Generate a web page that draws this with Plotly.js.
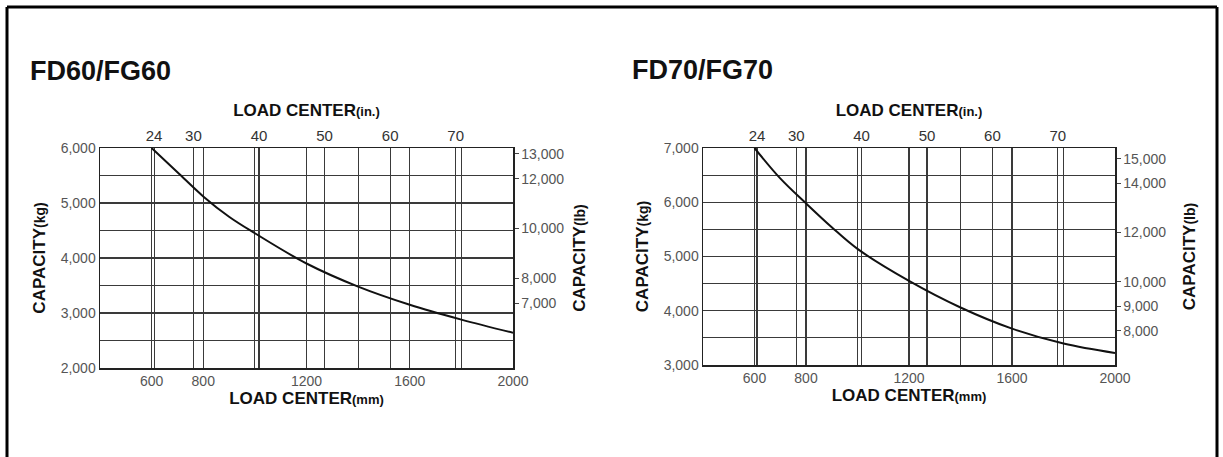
<!DOCTYPE html>
<html>
<head>
<meta charset="utf-8">
<script src="https://cdn.plot.ly/plotly-3.0.1.min.js"></script>
<style>html,body{margin:0;padding:0;background:#fff;}#chart{width:1223px;height:457px;}</style>
</head>
<body>
<div id="chart"></div>
<script>
// ---- data ----
const loadCenterMm = [600, 700, 800, 900, 1000, 1200, 1400, 1600, 1800, 2000];
const fd60CapacityKg = [6000, 5560, 5120, 4750, 4450, 3900, 3480, 3150, 2880, 2640];
const fd70CapacityKg = [7000, 6440, 5980, 5540, 5140, 4550, 4060, 3670, 3395, 3220];

const mmTickLabels = [600, 800, 1200, 1600, 2000];
const inchTickLabels = [24, 30, 40, 50, 60, 70];
const fd60LbTicks = [7000, 8000, 10000, 12000, 13000];
const fd70LbTicks = [8000, 9000, 10000, 12000, 14000, 15000];

const fd60KgRange = [2000, 6000];
const fd70KgRange = [3000, 7000];
const mmRange = [400, 2000];

const KG_TO_LB = 2.20462;
const MM_PER_IN = 25.4;

// ---- styling ----
const FONT = "Liberation Sans, Arial, sans-serif";
const GRID = '#3a3a3a';
const tickFont = {family: FONT, size: 14, color: '#555'};
const titleFont = {family: FONT, size: 17, color: '#111', weight: 'bold'};

function bottomX(domain, anchor) {
  return {
    domain: domain, anchor: anchor, range: mmRange,
    tickmode: 'array', tickvals: mmTickLabels, ticks: '',
    showgrid: true, gridcolor: GRID, gridwidth: 1.2,
    minor: {tickmode: 'linear', tick0: 0, dtick: 200, showgrid: true, gridcolor: GRID, gridwidth: 1.2, ticks: ''},
    showline: true, linecolor: '#222', linewidth: 1.5,
    zeroline: false, tickfont: tickFont, fixedrange: true,
    title: {text: 'LOAD CENTER<span style="font-size:13px">(mm)</span>', font: titleFont, standoff: 4}
  };
}
function topX(base, anchor) {
  return {
    overlaying: base, anchor: anchor, side: 'top',
    range: [mmRange[0] / MM_PER_IN, mmRange[1] / MM_PER_IN],
    tickmode: 'array', tickvals: inchTickLabels, ticks: '',
    showgrid: true, gridcolor: GRID, gridwidth: 1.2,
    showline: true, linecolor: '#222', linewidth: 1.5,
    zeroline: false, tickfont: {family: FONT, size: 15, color: '#333'}, fixedrange: true,
    title: {text: 'LOAD CENTER<span style="font-size:13px">(in.)</span>', font: titleFont, standoff: 5}
  };
}
function leftY(domain, anchor, range) {
  return {
    domain: domain, anchor: anchor, range: range,
    tickmode: 'linear', tick0: 0, dtick: 1000, tickformat: ',d', ticks: '',
    showgrid: true, gridcolor: GRID, gridwidth: 1.2,
    minor: {tickmode: 'linear', tick0: 0, dtick: 500, showgrid: true, gridcolor: GRID, gridwidth: 1.2, ticks: ''},
    showline: true, linecolor: '#222', linewidth: 1.5,
    zeroline: false, tickfont: tickFont, fixedrange: true,
    title: {text: 'CAPACITY<span style="font-size:14px">(kg)</span>', font: titleFont, standoff: 10}
  };
}
function rightY(base, anchor, kgRange, lbTicks, standoff) {
  return {
    overlaying: base, anchor: anchor, side: 'right',
    range: [kgRange[0] * KG_TO_LB, kgRange[1] * KG_TO_LB],
    tickmode: 'array', tickvals: lbTicks, tickformat: ',d',
    ticks: 'outside', ticklen: 4, tickcolor: '#444',
    showgrid: false, showline: true, linecolor: '#222', linewidth: 1.5,
    zeroline: false, tickfont: tickFont, fixedrange: true,
    title: {text: 'CAPACITY<span style="font-size:14px">(lb)</span>', font: titleFont, standoff: standoff}
  };
}

const W = 1223, H = 457;
const px = v => v / W;
const py = v => 1 - v / H;

const curveLine = {color: '#111', width: 2, shape: 'spline'};
const traces = [
  {x: loadCenterMm, y: fd60CapacityKg, xaxis: 'x', yaxis: 'y', type: 'scatter', mode: 'lines',
   line: curveLine, hoverinfo: 'skip'},
  // same curve in inch / lb units, invisible, so the secondary axes are drawn
  {x: loadCenterMm.map(v => v / MM_PER_IN), y: fd60CapacityKg.map(v => v * KG_TO_LB), xaxis: 'x2', yaxis: 'y2',
   type: 'scatter', mode: 'lines', opacity: 0, line: curveLine, hoverinfo: 'skip'},
  {x: loadCenterMm, y: fd70CapacityKg, xaxis: 'x3', yaxis: 'y3', type: 'scatter', mode: 'lines',
   line: curveLine, hoverinfo: 'skip'},
  {x: loadCenterMm.map(v => v / MM_PER_IN), y: fd70CapacityKg.map(v => v * KG_TO_LB), xaxis: 'x4', yaxis: 'y4',
   type: 'scatter', mode: 'lines', opacity: 0, line: curveLine, hoverinfo: 'skip'}
];

const layout = {
  width: W, height: H,
  margin: {l: 0, r: 0, t: 0, b: 0},
  paper_bgcolor: '#fff', plot_bgcolor: '#fff',
  showlegend: false,
  xaxis: bottomX([px(100), px(513)], 'y'),
  xaxis2: topX('x', 'y'),
  yaxis: leftY([py(368), py(148)], 'x', fd60KgRange),
  yaxis2: rightY('y', 'x', fd60KgRange, fd60LbTicks, 10),
  xaxis3: bottomX([px(703), px(1115)], 'y3'),
  xaxis4: topX('x3', 'y3'),
  yaxis3: leftY([py(365), py(148)], 'x3', fd70KgRange),
  yaxis4: rightY('y3', 'x3', fd70KgRange, fd70LbTicks, 18),
  annotations: [
    {text: 'FD60/FG60', xref: 'paper', yref: 'paper', x: px(28), y: py(71), xanchor: 'left', yanchor: 'middle',
     showarrow: false, font: {family: FONT, size: 27, color: '#111', weight: 'bold'}},
    {text: 'FD70/FG70', xref: 'paper', yref: 'paper', x: px(630), y: py(70), xanchor: 'left', yanchor: 'middle',
     showarrow: false, font: {family: FONT, size: 27, color: '#111', weight: 'bold'}}
  ],
  shapes: [
    {type: 'line', xref: 'paper', yref: 'paper', x0: px(7), x1: px(7), y0: 0, y1: py(7), line: {color: '#000', width: 3}},
    {type: 'line', xref: 'paper', yref: 'paper', x0: px(7), x1: px(1217), y0: py(7), y1: py(7), line: {color: '#000', width: 3}},
    {type: 'line', xref: 'paper', yref: 'paper', x0: px(1217), x1: px(1217), y0: 0, y1: py(7), line: {color: '#000', width: 3}}
  ]
};

Plotly.newPlot('chart', traces, layout, {staticPlot: true, displayModeBar: false});
</script>
</body>
</html>
